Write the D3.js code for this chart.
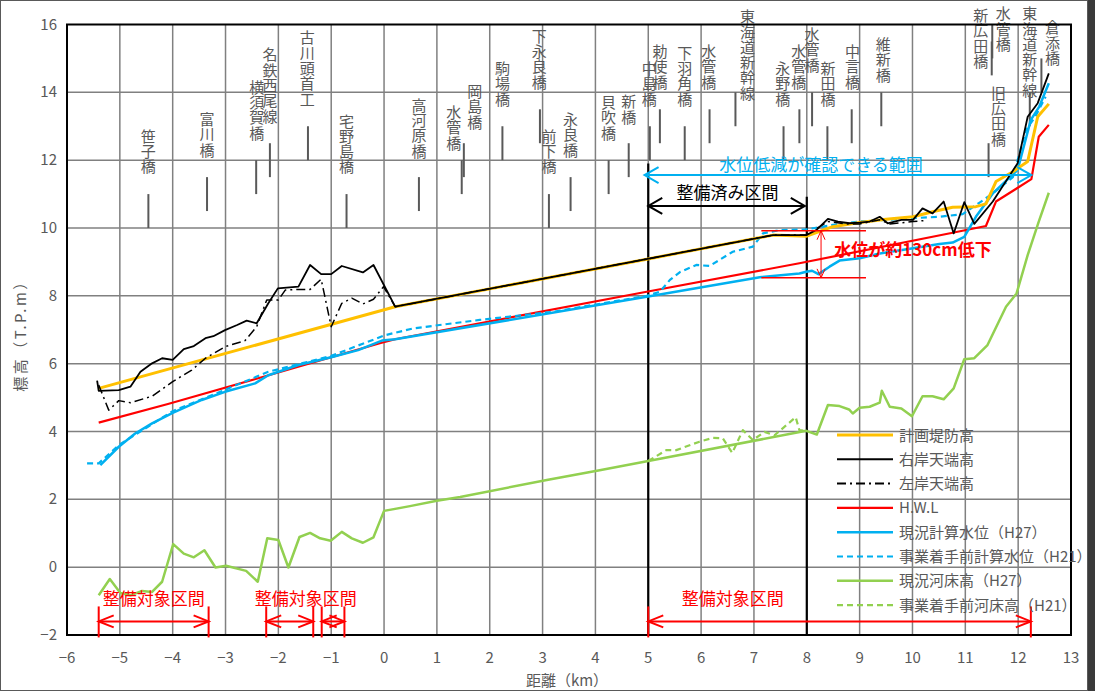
<!DOCTYPE html>
<html>
<head>
<meta charset="utf-8">
<script src="https://cdn.jsdelivr.net/npm/d3@7"></script>
<style>
  body { margin: 0; background: #fff; }
  svg { display: block; }
  text { font-family: "Noto Sans CJK JP", sans-serif; }
</style>
</head>
<body>
<div id="chart"></div>
<script>
// data: [距離 km, 標高 T.P.m]

var planLevee = [[-5.4,5.27],[0.21,7.68],[4.97,9.08],[7.36,9.79],[8.0,9.76],[8.49,10.04],[9.0,10.16],[9.5,10.26],
  [10.01,10.33],[10.38,10.48],[10.76,10.61],[11.2,10.63],[11.39,10.71],[11.58,11.37],[11.9,11.66],[12.18,11.96],
  [12.37,13.28],[12.58,13.66]];

var rightBank = [[-5.43,5.5],[-5.4,5.2],[-5.02,5.22],[-4.8,5.32],[-4.61,5.76],[-4.39,6.01],[-4.2,6.16],[-4.0,6.11],
  [-3.79,6.43],[-3.6,6.52],[-3.38,6.75],[-3.23,6.81],[-3.01,6.99],[-2.78,7.14],[-2.6,7.27],[-2.41,7.19],
  [-2.19,7.78],[-2.01,8.22],[-1.62,8.27],[-1.4,8.91],[-1.19,8.64],[-1.0,8.64],[-0.8,8.88],[-0.4,8.69],
  [-0.2,8.91],[0.21,7.68],[7.36,9.79],[7.99,9.79],[8.18,9.94],[8.4,10.27],[8.59,10.19],[8.81,10.14],[9.0,10.16],
  [9.19,10.19],[9.38,10.33],[9.53,10.14],[9.79,10.24],[10.01,10.24],[10.19,10.58],[10.38,10.43],[10.59,10.78],
  [10.78,9.84],[10.98,10.76],[11.17,10.12],[11.52,10.78],[11.99,11.91],[12.18,13.28],[12.37,13.68],[12.58,14.56]];

var leftBank = [[-5.4,5.37],[-5.21,4.63],[-5.02,4.91],[-4.8,4.85],[-4.39,5.04],[-4.0,5.47],[-3.64,5.81],
  [-3.38,6.16],[-3.01,6.5],[-2.63,6.68],[-2.41,7.09],[-2.22,7.88],[-2.0,7.88],[-1.87,8.17],[-1.62,8.19],
  [-1.4,8.19],[-1.19,8.49],[-1.0,7.09],[-0.8,7.78],[-0.61,7.93],[-0.4,7.76],[-0.2,7.9],[-0.01,8.27],
  [0.21,7.68],[7.36,9.79],[7.99,9.79],[8.4,10.19],[8.75,10.12],[9.0,10.12],[9.38,10.24],[9.57,10.12],
  [10.01,10.19],[10.23,10.22]];

var hwl = [[-5.4,4.26],[-4.09,4.81],[-2.38,5.57],[-0.08,6.6],[0.21,6.72],[4.97,8.12],[7.86,8.96],[10.76,9.86],
  [11.39,10.06],[11.58,10.78],[12.25,11.44],[12.39,12.69],[12.58,13.04]];

var wlH27 = [[-5.37,3.01],[-5.02,3.55],[-4.71,3.94],[-4.39,4.24],[-4.0,4.55],[-3.45,4.93],[-3.01,5.17],
  [-2.44,5.42],[-2.19,5.66],[-1.62,5.96],[-1.0,6.19],[-0.49,6.4],[-0.04,6.68],[0.21,6.72],[4.97,7.97],
  [7.11,8.55],[7.86,8.66],[7.99,8.71],[8.1,8.74],[8.22,8.64],[8.43,8.86],[8.62,9.04],[9.0,9.11],[9.38,9.25],
  [10.01,9.4],[10.51,9.53],[10.76,9.57],[10.98,9.74],[11.2,10.33],[11.52,11.02],[11.99,11.71],[12.24,13.19],
  [12.4,13.58],[12.58,14.27]];

var wlH21 = [[-5.62,3.06],[-5.4,3.06],[-5.02,3.6],[-4.0,4.6],[-3.01,5.23],[-2.19,5.76],[-1.0,6.23],[0.02,6.84],
  [0.55,7.04],[1.81,7.29],[3.2,7.53],[4.97,8.0],[5.22,8.12],[5.41,8.47],[5.6,8.7],[5.91,8.91],[6.16,8.88],
  [6.6,9.3],[6.98,9.45],[7.17,9.84],[7.49,9.94],[7.99,9.96],[8.49,10.09],[9.0,10.19],[9.5,10.24],[10.01,10.29],
  [10.51,10.33],[10.95,10.41],[11.27,10.75],[11.52,11.02],[11.9,11.5],[12.15,12.89],[12.33,13.3],[12.52,13.87]];

var bedH27 = [[-5.4,-0.83],[-5.19,-0.35],[-4.99,-0.76],[-4.8,-0.83],[-4.58,-0.7],[-4.39,-0.73],[-4.2,-0.43],
  [-3.99,0.68],[-3.79,0.4],[-3.6,0.29],[-3.4,0.5],[-3.19,-0.01],[-2.99,0.04],[-2.61,-0.11],[-2.39,-0.43],
  [-2.21,0.85],[-2.0,0.8],[-1.81,-0.01],[-1.6,0.89],[-1.4,1.01],[-1.21,0.85],[-1.01,0.78],[-0.8,1.04],
  [-0.61,0.85],[-0.4,0.72],[-0.2,0.88],[0.0,1.66],[0.49,1.8],[1.0,1.96],[1.44,2.07],[3.08,2.57],[4.08,2.86],
  [5.0,3.13],[7.99,4.02],[8.19,3.91],[8.4,4.78],[8.62,4.75],[8.8,4.65],[8.87,4.53],[9.0,4.7],[9.19,4.73],
  [9.38,4.85],[9.42,5.2],[9.57,4.73],[9.79,4.68],[9.99,4.45],[10.19,5.04],[10.38,5.04],[10.59,4.95],
  [10.78,5.27],[10.98,6.13],[11.17,6.16],[11.42,6.55],[11.77,7.68],[11.97,8.07],[12.18,9.2],[12.39,10.19],
  [12.58,11.04]];

var bedH21 = [[5.0,3.13],[5.34,3.45],[5.53,3.45],[5.97,3.7],[6.22,3.81],[6.41,3.8],[6.59,3.37],[6.79,4.04],
  [6.98,3.75],[7.2,3.99],[7.39,3.89],[7.79,4.42],[7.86,4.04],[7.99,4.02]];

var seriesNames = ["計画堤防高","右岸天端高","左岸天端高","H.W.L","現況計算水位（H27）",
  "事業着手前計算水位（H21）","現況河床高（H27）","事業着手前河床高（H21）"];

// bridges
var bridgeNames = ["笹子橋","富川橋","横須賀橋","名鉄西尾線","古川頭首工","宅野島橋","高河原橋","水管橋","岡島橋",
  "駒場橋","下永良橋","前下橋","永良橋","貝吹橋","新橋","中島橋","勅使橋","下羽角橋","水管橋","東海道新幹線",
  "永野橋","水管橋","水管橋","新田橋","中言橋","維新橋","旧広田橋","新広田橋","水管橋","東海道新幹線","倉添橋"];
var bridgeKm = [-4.46,-3.35,-2.42,-2.16,-1.44,-0.71,0.66,1.47,1.51,2.24,2.95,3.12,3.53,4.25,4.63,5.03,5.22,
  5.69,6.16,6.65,7.56,7.86,8.10,8.39,8.85,9.41,11.44,11.50,11.51,12.22,12.44];

// sections
var doneSection = [5, 8];
var reducedRange = [4.93, 12.25];
var targetSections = [[-5.4,-3.32],[-2.23,-1.34],[-1.18,-0.75],[5.0,12.24]];
var targetLabelKm = [-4.36,-1.48,6.6];
var dropKm = 8.27, dropLevels = [9.92, 8.53], dropLineKm = [7.14, 9.12];

var xTicks = d3.range(-6, 14, 1);
var yTicks = d3.range(-2, 17, 2);

// layout for bridge labels: [level, dx px, gap px]
var bridgeLayout = [[0,0,27],[1,0,27],[2,0.7,27],[3,0,27],[4,-0.7,27],[0,0,27],[1,0,26],[2,-8,17],[3,11,21],
  [4,0,27],[5,-0.7,27],[0,0,27],[1,0,27],[2,0,27],[3,0,26],[4,-0.7,27],[5,0,27],[4,0,27],[5,-0.7,27],[6,12,-1],
  [4,-0.7,27],[5,-0.7,27],[6,0,27],[4,0.7,27],[5,0.7,27],[6,2,17],[3,10,4],[9,-11,-20],[10,11,-20],[6,0,2],[8,11,0]];

var W = 1095, H = 691;
var x = d3.scaleLinear().domain([-6, 13]).range([67, 1071]);
var y = d3.scaleLinear().domain([-2, 16]).range([635, 24.5]);

var svg = d3.select("#chart").append("svg").attr("width", W).attr("height", H);

svg.append("rect").attr("x", 0.5).attr("y", 0.5).attr("width", 1087).attr("height", H - 1)
  .attr("fill", "#fff").attr("stroke", "#595959");
svg.append("rect").attr("x", 1088).attr("y", 0).attr("width", 7).attr("height", H).attr("fill", "#3a3a3a");

var grid = svg.append("g").attr("stroke", "#808080").attr("stroke-width", 1.5);
grid.selectAll(".vx").data(xTicks.slice(1, -1)).enter().append("line")
  .attr("x1", d => x(d)).attr("x2", d => x(d)).attr("y1", y(-2)).attr("y2", y(16));
grid.selectAll(".hy").data(yTicks.slice(1, -1)).enter().append("line")
  .attr("y1", d => y(d)).attr("y2", d => y(d)).attr("x1", x(-6)).attr("x2", x(13));

// tick labels
svg.selectAll(".xt").data(xTicks).enter().append("text")
  .attr("x", d => x(d)).attr("y", 663).attr("text-anchor", "middle")
  .attr("font-size", 15).attr("fill", "#595959")
  .text(d => d < 0 ? "−" + (-d) : d);
svg.selectAll(".yt").data(yTicks).enter().append("text")
  .attr("x", 57).attr("y", d => y(d) + 5).attr("text-anchor", "end")
  .attr("font-size", 15).attr("fill", "#595959")
  .text(d => d < 0 ? "−" + (-d) : d);

svg.append("text").attr("x", 567).attr("y", 686).attr("text-anchor", "middle")
  .attr("font-size", 15).attr("fill", "#595959").text("距離（km）");
svg.append("text").attr("transform", "translate(26,332) rotate(-90)").attr("text-anchor", "middle")
  .attr("font-size", 15).attr("letter-spacing", 2.5).attr("fill", "#595959").text("標高（T.P.m）");

// bridge labels, one character per row
var br = svg.append("g");
bridgeNames.forEach(function(name, i) {
  var L = bridgeLayout[i], bx = x(bridgeKm[i]);
  var yb = y(10 + 0.5 * L[0]), yt = y(11 + 0.5 * L[0]);
  br.append("line").attr("x1", bx).attr("x2", bx).attr("y1", yt).attr("y2", yb)
    .attr("stroke", "#595959").attr("stroke-width", 2);
  var chars = name.split(""), last = yt - L[2];
  chars.forEach(function(c, j) {
    br.append("text").attr("x", bx + L[1]).attr("y", last - (chars.length - 1 - j) * 15.3)
      .attr("dy", "0.36em").attr("text-anchor", "middle")
      .attr("font-size", 15).attr("fill", "#595959").text(c);
  });
});

// section vertical lines
svg.append("line").attr("x1", x(doneSection[0])).attr("x2", x(doneSection[0]))
  .attr("y1", y(-2)).attr("y2", y(11.9)).attr("stroke", "#000").attr("stroke-width", 2.2);
svg.append("line").attr("x1", x(doneSection[1])).attr("x2", x(doneSection[1]))
  .attr("y1", y(-2)).attr("y2", y(10.92)).attr("stroke", "#000").attr("stroke-width", 2.2);

// series
var line = d3.line().x(d => x(d[0])).y(d => y(d[1]));
function draw(data, color, w, dash) {
  svg.append("path").datum(data).attr("d", line).attr("fill", "none")
    .attr("stroke", color).attr("stroke-width", w)
    .attr("stroke-dasharray", dash || null).attr("stroke-linejoin", "round");
}
var colors = ["#FFC000", "#000000", "#000000", "#FF0000", "#00B0F0", "#00B0F0", "#92D050", "#92D050"];
var widths = [3, 1.8, 1.5, 2.2, 2.5, 2.2, 2.5, 2.2];
var dashes = [null, null, "9,4,2,4", null, null, "6,4", null, "6,4"];
var allSeries = [planLevee, rightBank, leftBank, hwl, wlH27, wlH21, bedH27, bedH21];
[6, 7, 3, 4, 5, 0, 2, 1].forEach(function(k) {
  draw(allSeries[k], colors[k], widths[k], dashes[k]);
});

// plot frame
svg.append("rect").attr("x", x(-6)).attr("y", y(16)).attr("width", x(13) - x(-6)).attr("height", y(-2) - y(16))
  .attr("fill", "none").attr("stroke", "#000").attr("stroke-width", 2);

// arrows
function arrow(x1, x2, yy, color, w, hl, hw) {
  var g = svg.append("g").attr("stroke", color).attr("stroke-width", w).attr("fill", "none");
  g.append("line").attr("x1", x1).attr("x2", x2).attr("y1", yy).attr("y2", yy);
  g.append("path").attr("d", "M" + (x1 + hl) + "," + (yy - hw) + "L" + x1 + "," + yy + "L" + (x1 + hl) + "," + (yy + hw));
  g.append("path").attr("d", "M" + (x2 - hl) + "," + (yy - hw) + "L" + x2 + "," + yy + "L" + (x2 - hl) + "," + (yy + hw));
}

arrow(x(doneSection[0]), x(doneSection[1]) - 2, y(10.65), "#000", 2, 14, 8);
svg.append("text").attr("x", (x(doneSection[0]) + x(doneSection[1])) / 2).attr("y", y(10.65) - 7)
  .attr("text-anchor", "middle").attr("font-size", 17).attr("fill", "#000").text("整備済み区間");

arrow(x(reducedRange[0]), x(reducedRange[1]), y(11.56), "#00B0F0", 2, 14, 8);
svg.append("text").attr("x", 821).attr("y", y(11.56) - 4)
  .attr("text-anchor", "middle").attr("font-size", 17).attr("fill", "#00B0F0").text("水位低減が確認できる範囲");

// bottom target sections
var ty = y(-1.6);
targetSections.forEach(function(s) {
  arrow(x(s[0]), x(s[1]), ty, "#FF0000", 2, 15, 6);
  [s[0], s[1]].forEach(function(v) {
    svg.append("line").attr("x1", x(v)).attr("x2", x(v)).attr("y1", ty - 15).attr("y2", ty + 16)
      .attr("stroke", "#FF0000").attr("stroke-width", 2);
  });
});
targetLabelKm.forEach(function(v) {
  svg.append("text").attr("x", x(v)).attr("y", ty - 16).attr("text-anchor", "middle")
    .attr("font-size", 17).attr("fill", "#FF0000").text("整備対象区間");
});

// water level drop annotation
dropLevels.forEach(function(v) {
  svg.append("line").attr("x1", x(dropLineKm[0])).attr("x2", x(dropLineKm[1]))
    .attr("y1", y(v)).attr("y2", y(v)).attr("stroke", "#FF0000").attr("stroke-width", 1.5);
});
var dx0 = x(dropKm), dy1 = y(dropLevels[0]), dy2 = y(dropLevels[1]);
var dg = svg.append("g").attr("stroke", "#FF0000").attr("stroke-width", 1).attr("fill", "none");
dg.append("line").attr("x1", dx0).attr("x2", dx0).attr("y1", dy1).attr("y2", dy2);
dg.append("path").attr("d", "M" + (dx0 - 4) + "," + (dy1 + 9) + "L" + dx0 + "," + dy1 + "L" + (dx0 + 4) + "," + (dy1 + 9));
dg.append("path").attr("d", "M" + (dx0 - 4) + "," + (dy2 - 9) + "L" + dx0 + "," + dy2 + "L" + (dx0 + 4) + "," + (dy2 - 9));
svg.append("text").attr("x", x(8.52)).attr("y", y(9.17)).attr("font-size", 17).attr("font-weight", "bold")
  .attr("fill", "#FF0000").text("水位が約130cm低下");

// legend
var leg = svg.append("g");
seriesNames.forEach(function(name, i) {
  var ly = 435 + i * 24.3;
  leg.append("line").attr("x1", 837).attr("x2", 893).attr("y1", ly).attr("y2", ly)
    .attr("stroke", colors[i]).attr("stroke-width", widths[i] < 2 ? 2 : widths[i])
    .attr("stroke-dasharray", dashes[i]);
  leg.append("text").attr("x", 899).attr("y", ly + 5.5).attr("font-size", 15)
    .attr("fill", "#595959").text(name);
});
</script>
</body>
</html>
